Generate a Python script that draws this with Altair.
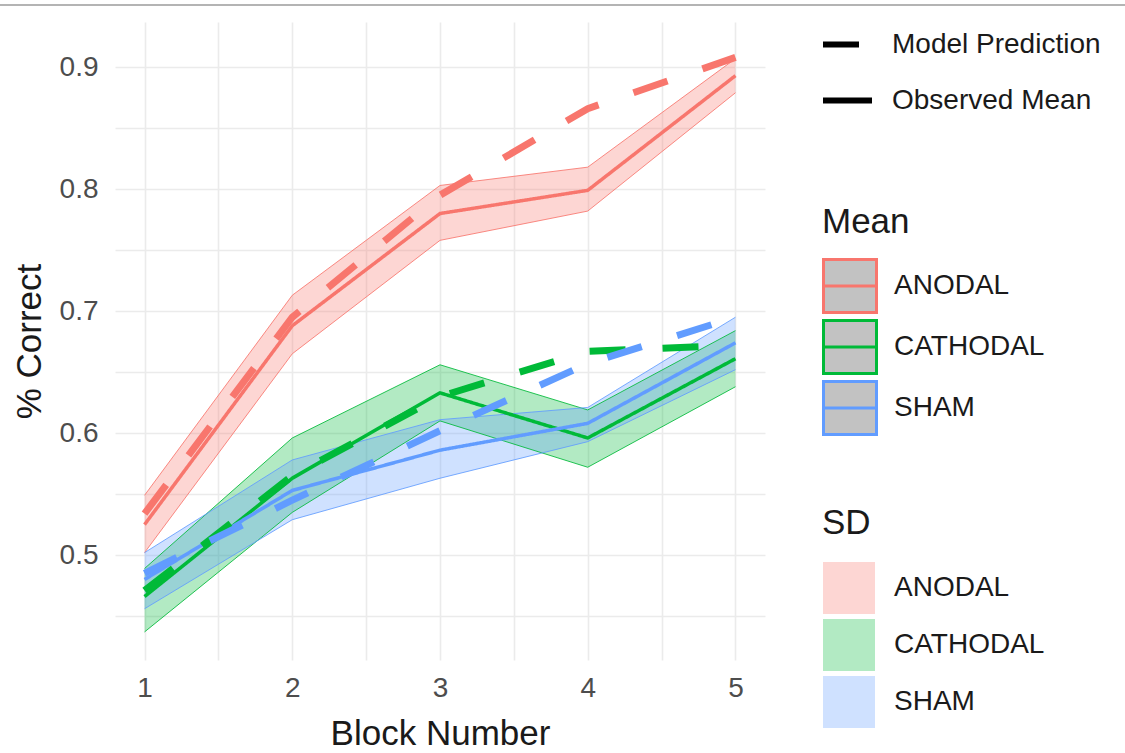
import altair as alt
import pandas as pd

# ---- data ----
BLOCKS = [1, 2, 3, 4, 5]
GROUPS = ["ANODAL", "CATHODAL", "SHAM"]
COLORS = ["#F8766D", "#00BA38", "#619CFF"]

# observed mean (solid lines)
OBS_ANODAL = [0.525, 0.688, 0.780, 0.799, 0.893]
OBS_CATHODAL = [0.466, 0.563, 0.633, 0.596, 0.661]
OBS_SHAM = [0.480, 0.553, 0.586, 0.608, 0.674]

# SD ribbon bounds
LO_ANODAL = [0.502, 0.665, 0.758, 0.782, 0.879]
HI_ANODAL = [0.549, 0.713, 0.803, 0.818, 0.907]
LO_CATHODAL = [0.437, 0.535, 0.610, 0.572, 0.638]
HI_CATHODAL = [0.489, 0.596, 0.656, 0.619, 0.684]
LO_SHAM = [0.456, 0.529, 0.563, 0.593, 0.652]
HI_SHAM = [0.502, 0.578, 0.611, 0.621, 0.695]

# model prediction (dashed lines)
MOD_ANODAL = [0.534, 0.695, 0.795, 0.866, 0.908]
MOD_CATHODAL = [0.471, 0.565, 0.630, 0.667, 0.672]
MOD_SHAM = [0.485, 0.545, 0.602, 0.657, 0.695]

X_TICKS = [1, 1.5, 2, 2.5, 3, 3.5, 4, 4.5, 5]
Y_TICKS = [0.45, 0.5, 0.55, 0.6, 0.65, 0.7, 0.75, 0.8, 0.85, 0.9]

obs = {"ANODAL": OBS_ANODAL, "CATHODAL": OBS_CATHODAL, "SHAM": OBS_SHAM}
lo = {"ANODAL": LO_ANODAL, "CATHODAL": LO_CATHODAL, "SHAM": LO_SHAM}
hi = {"ANODAL": HI_ANODAL, "CATHODAL": HI_CATHODAL, "SHAM": HI_SHAM}
mod = {"ANODAL": MOD_ANODAL, "CATHODAL": MOD_CATHODAL, "SHAM": MOD_SHAM}

rows_obs, rows_mod = [], []
for g in GROUPS:
    for i, b in enumerate(BLOCKS):
        rows_obs.append({"Block": b, "Mean": g, "SD": g, "Edge": g, "Type": "Observed Mean",
                         "value": obs[g][i], "lo": lo[g][i], "hi": hi[g][i]})
        rows_mod.append({"Block": b, "Mean": g, "Type": "Model Prediction",
                         "value": mod[g][i]})
df_obs = pd.DataFrame(rows_obs)
df_mod = pd.DataFrame(rows_mod)

FONT = "Liberation Sans"

xscale = alt.Scale(domain=[0.8, 5.2], nice=False, zero=False)
yscale = alt.Scale(domain=[0.414, 0.937], nice=False, zero=False)

xaxis = alt.Axis(values=X_TICKS, title="Block Number",
                 labelExpr="datum.value % 1 == 0 ? format(datum.value, 'd') : ''",
                 labelOverlap=False, labelPadding=14, titlePadding=14)
yaxis = alt.Axis(values=Y_TICKS, title="% Correct",
                 labelExpr="round(datum.value*100) % 10 == 0 ? format(datum.value, '.1f') : ''",
                 labelOverlap=False, labelPadding=17, titlePadding=12)

# stroke scale: explicit domain; fill / color scales: data-derived (keeps legends apart)
stroke_scale = alt.Scale(domain=GROUPS, range=COLORS)
fill_scale = alt.Scale(range=COLORS)
edge_scale = alt.Scale(range=COLORS)
dash_scale = alt.Scale(domain=["Model Prediction", "Observed Mean"],
                       range=[[36, 37], [1, 0]])

X = alt.X("Block:Q", scale=xscale, axis=xaxis)
Y = alt.Y("value:Q", scale=yscale, axis=yaxis)

base = alt.Chart(df_obs)

ribbon = base.mark_area(opacity=0.3).encode(
    x=X,
    y=alt.Y("lo:Q", scale=yscale, axis=yaxis),
    y2="hi:Q",
    fill=alt.Fill("SD:N", scale=fill_scale, legend=alt.Legend(
        title="SD", orient="none", legendX=707, legendY=484,
        symbolType="square", symbolSize=2704, rowPadding=4,
        titlePadding=20, labelOffset=18, symbolOpacity=0.3)),
)

edge_lo = base.mark_line(strokeWidth=1, opacity=0.85).encode(
    x=X, y=alt.Y("lo:Q", scale=yscale, axis=yaxis),
    color=alt.Color("Edge:N", scale=edge_scale, legend=None),
)
edge_hi = base.mark_line(strokeWidth=1, opacity=0.85).encode(
    x=X, y=alt.Y("hi:Q", scale=yscale, axis=yaxis),
    color=alt.Color("Edge:N", scale=edge_scale, legend=None),
)

mean_legend = alt.Legend(
    title="Mean", orient="none", legendX=707, legendY=183,
    symbolType="M-1,-1H1V1H-1Z M-1,0H1", symbolSize=2809,
    symbolFillColor="#c2c2c2", symbolStrokeWidth=3, rowPadding=-11,
    titlePadding=18, labelOffset=16)
dash_legend = alt.Legend(
    title=None, orient="none", legendX=705, legendY=-5,
    symbolType="stroke", symbolSize=2401, symbolStrokeColor="black",
    symbolStrokeWidth=6, rowPadding=14, labelOffset=17)

observed = alt.Chart(df_obs).mark_line(strokeWidth=3.5).encode(
    x=X, y=Y,
    stroke=alt.Stroke("Mean:N", scale=stroke_scale, legend=mean_legend),
    strokeDash=alt.StrokeDash("Type:N", scale=dash_scale, legend=dash_legend),
)
model = alt.Chart(df_mod).mark_line(strokeWidth=7).encode(
    x=X, y=Y,
    stroke=alt.Stroke("Mean:N", scale=stroke_scale, legend=mean_legend),
    strokeDash=alt.StrokeDash("Type:N", scale=dash_scale, legend=dash_legend),
)

topline = alt.Chart(df_obs).mark_rule(color="#b4b4b4", strokeWidth=2).encode(
    x=alt.value(-115), x2=alt.value(1010), y=alt.value(-17))

chart = alt.layer(ribbon, edge_lo, edge_hi, observed, model, topline).properties(
    width=650, height=638,
    autosize=alt.AutoSizeParams(type="none"),
    padding={"left": 115, "top": 22, "right": 360, "bottom": 93},
).configure_view(stroke=None).configure_axis(
    domain=False, ticks=False, grid=True, gridColor="#ebebeb", gridWidth=1.6,
    labelFont=FONT, labelFontSize=28, labelColor="#4d4d4d",
    titleFont=FONT, titleFontSize=35, titleFontWeight="normal", titleColor="#1a1a1a",
).configure_legend(
    labelFont=FONT, labelFontSize=28, labelColor="#1a1a1a", labelLimit=400,
    titleFont=FONT, titleFontSize=35, titleFontWeight="normal", titleColor="#1a1a1a",
    padding=0,
)

chart.save("out.html", embed_options={"renderer": "svg", "actions": False})
